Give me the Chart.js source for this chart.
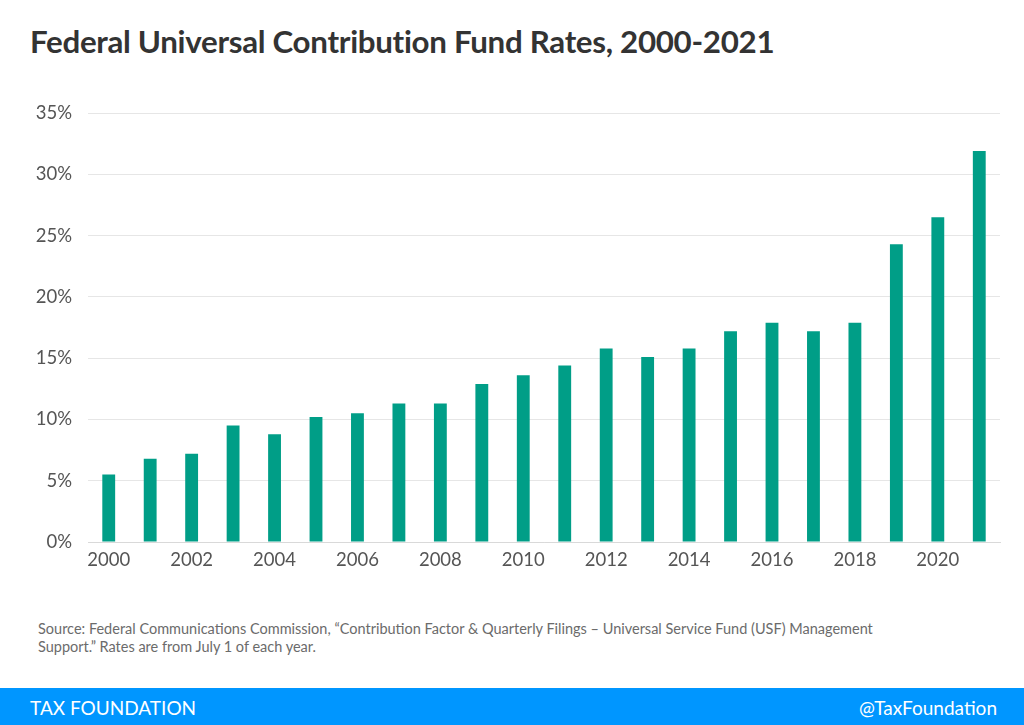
<!DOCTYPE html>
<html>
<head>
<meta charset="utf-8">
<script src="https://cdn.jsdelivr.net/npm/chart.js@4/dist/chart.umd.min.js"></script>
<style>
  body { margin: 0; width: 1024px; height: 725px; background: #fff; font-family: Lato, "Open Sans", sans-serif; position: relative; overflow: hidden; }
  #title { position: absolute; left: 30px; top: 22px; font-size: 31.3px; font-weight: bold; color: #333; letter-spacing: -0.3px; }
  #wrap { position: absolute; left: 0; top: 86px; width: 1024px; height: 494px; }
  #source { position: absolute; left: 38px; top: 620px; width: 860px; font-size: 14.5px; line-height: 18px; color: #6b6b6b; }
  #footer { position: absolute; left: 0; top: 688px; width: 1024px; height: 37px; background: #0096ff; color: #fff; font-size: 19px; }
  #footer .l { position: absolute; left: 30px; top: 8px; }
  #footer .r { position: absolute; right: 27px; top: 8px; }
</style>
</head>
<body>
<div id="title">Federal Universal Contribution Fund Rates, 2000-2021</div>
<div id="wrap"><canvas id="canvas_bar"></canvas></div>
<div id="source">Source: Federal Communications Commission, “Contribution Factor &amp; Quarterly Filings – Universal Service Fund (USF) Management Support.” Rates are from July 1 of each year.</div>
<div id="footer"><span class="l">TAX FOUNDATION</span><span class="r">@TaxFoundation</span></div>
<script>
// data
const years = ['2000','2001','2002','2003','2004','2005','2006','2007','2008','2009','2010',
               '2011','2012','2013','2014','2015','2016','2017','2018','2019','2020','2021'];
const rates = [5.5, 6.8, 7.2, 9.5, 8.8, 10.2, 10.5, 11.3, 11.3, 12.9, 13.6,
               14.4, 15.8, 15.1, 15.8, 17.2, 17.9, 17.2, 17.9, 24.3, 26.5, 31.9];
const yTicks = [0, 5, 10, 15, 20, 25, 30, 35];

const config_bar = {
  type: 'bar',
  data: {
    labels: years,
    datasets: [{
      data: rates,
      backgroundColor: '#009e87',
      barPercentage: 0.31,
      categoryPercentage: 1
    }]
  },
  options: {
    responsive: true,
    maintainAspectRatio: false,
    animation: false,
    layout: { padding: { top: 17, right: 24, left: 0, bottom: 0 } },
    plugins: { legend: { display: false }, tooltip: { enabled: false } },
    scales: {
      x: {
        grid: { display: false, drawTicks: false },
        border: { color: '#d9d9d9', width: 1 },
        ticks: {
          autoSkip: false, maxRotation: 0, padding: 7,
          color: '#555', font: { family: 'Lato', size: 18.5 },
          callback: (v, i) => i % 2 === 0 ? years[i] : ''
        },
        afterFit: (s) => { s.height = 38; }
      },
      y: {
        min: 0, max: 35,
        afterBuildTicks: (s) => { s.ticks = yTicks.map(v => ({ value: v })); },
        grid: { color: '#e6e6e6', drawTicks: false },
        border: { display: false },
        ticks: {
          padding: 16, color: '#555', font: { family: 'Lato', size: 18.5 },
          callback: (v) => v + '%'
        },
        afterFit: (s) => { s.width = 88; }
      }
    }
  }
};

const canvas_bar = document.getElementById('canvas_bar');
const chart_bar = new Chart(canvas_bar, config_bar);
</script>
</body>
</html>
